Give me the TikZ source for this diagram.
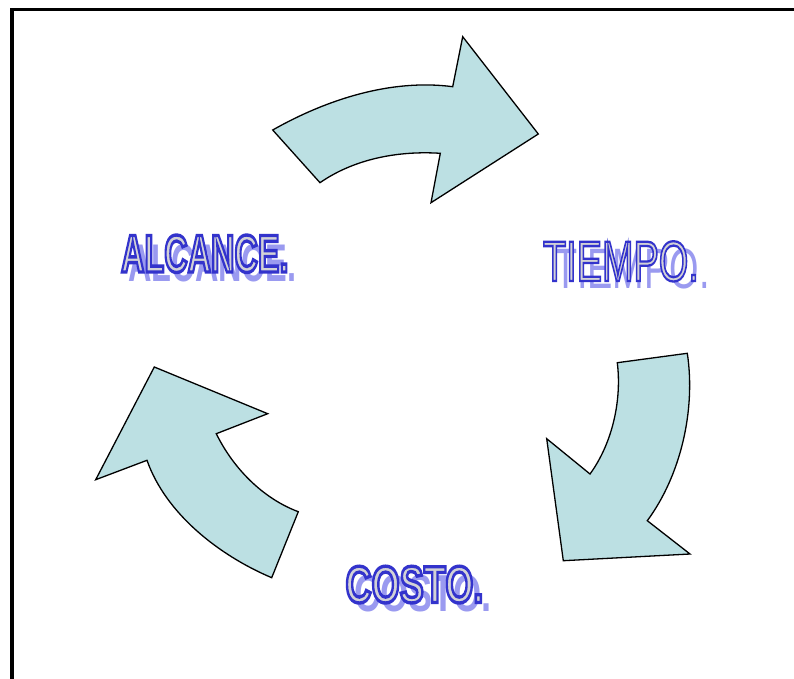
\documentclass[tikz,border=0pt]{standalone}
\usepackage{fontspec}
\usepackage{graphicx}
\setmainfont{Liberation Sans}
\definecolor{arrowfill}{HTML}{BCE0E3}
\definecolor{txtfill}{HTML}{D2D2D6}
\definecolor{txtshadow}{HTML}{9A9AF0}
\newcommand\olTxt[3]{{\color{txtfill}\special{pdf:literal direct 2 Tr #1 w 0.2 0.2 0.8 RG}\scalebox{#2}[1]{#3}\special{pdf:literal direct 0 Tr 0.4 w}}}
\newcommand\shTxt[2]{{\color{txtshadow}\scalebox{#1}[1]{#2}}}
\tikzset{
  cyclearrow/.style={fill=arrowfill, draw=black, line width=1.3pt, line join=miter},
  frameline/.style={draw=black, line width=3.5pt},
  lbl/.style={anchor=base west, inner sep=0pt, outer sep=0pt}
}
\begin{document}
\begin{tikzpicture}[x=1pt,y=-1pt]
\useasboundingbox (0,0) rectangle (794,679);
\fill[white] (0,0) rectangle (794,679);
% frame
\coordinate (fbl) at (12,681);
\coordinate (ftl) at (12,9.3);
\coordinate (ftr) at (796,9.3);
\draw[frameline] (fbl) -- (ftl) -- (ftr);
% top arrow
\draw[cyclearrow] (272.7,130) .. controls (326.7,99.4) and (391.3,78.6) .. (452.7,86.7)
  -- (462.7,36.7) -- (538.3,134) -- (431,202.7) -- (440.3,153.3)
  .. controls (398.3,150.6) and (354.4,158.8) .. (320,182.7) -- cycle;
% right arrow
\draw[cyclearrow] (617.3,362.7) -- (687.3,353.3)
  .. controls (695.8,409.8) and (680.9,475.1) .. (647.3,520.7)
  -- (690,554) -- (563.3,560.7) -- (546.7,438.7) -- (590,474)
  .. controls (612.4,443.2) and (621.9,400.3) .. (617.3,362.7) -- cycle;
% left arrow
\draw[cyclearrow] (154.3,367) -- (267.7,413.7) -- (216.3,433.7)
  .. controls (233,467.9) and (262.6,498.4) .. (298.3,511.7)
  -- (271.7,577.7)
  .. controls (219.3,555.5) and (165.8,513.9) .. (147,460.3)
  -- (95.7,479.7) -- cycle;
% labels: shadows
\node[lbl] (alcS) at (128.5,281) {\fontsize{53}{53}\bfseries\shTxt{0.612}{ALCANCE.}};
\node[lbl] (tieS) at (554,288.5) {\fontsize{57}{57}\selectfont\shTxt{0.665}{TIEMPO.}};
\node[lbl] (cosS) at (354,611.5) {\fontsize{52}{52}\bfseries\shTxt{0.695}{COSTO.}};
% labels: main
\node[lbl] (alc) at (121,272) {\fontsize{53}{53}\bfseries\olTxt{3.4}{0.612}{ALCANCE.}};
\node[lbl] (tie) at (543,281) {\fontsize{57}{57}\selectfont\olTxt{2.3}{0.665}{TIEMPO.}};
\node[lbl] (cos) at (345.5,602.5) {\fontsize{52}{52}\bfseries\olTxt{3.4}{0.695}{COSTO.}};
\end{tikzpicture}
\end{document}
